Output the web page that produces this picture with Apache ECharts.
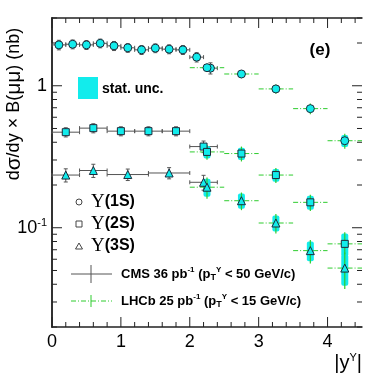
<!DOCTYPE html>
<html>
<head>
<meta charset="utf-8">
<script src="https://cdn.jsdelivr.net/npm/echarts@6/dist/echarts.min.js"></script>
<style>
  html, body { margin: 0; background: #fff; }
  #chart { width: 378px; height: 378px; }
</style>
</head>
<body>
<div id="chart"></div>
<script>
// axis ranges
const xRange = [0, 4.5];
const yRange = [0.02, 3];

// CMS 36 pb-1 : bin centre, bin half width, value (nb), total error
const cms1sX = [0.1, 0.3, 0.5, 0.7, 0.9, 1.1, 1.3, 1.5, 1.7, 1.9, 2.1, 2.3];
const cms1sW = [0.1, 0.1, 0.1, 0.1, 0.1, 0.1, 0.1, 0.1, 0.1, 0.1, 0.1, 0.1];
const cms1sY = [1.94, 1.96, 1.94, 1.99, 1.91, 1.85, 1.79, 1.84, 1.81, 1.79, 1.59, 1.33];
const cms1sE = [0.15, 0.14, 0.14, 0.14, 0.14, 0.13, 0.13, 0.13, 0.13, 0.13, 0.12, 0.12];

const cms2sX = [0.2, 0.6, 1.0, 1.4, 1.8, 2.2];
const cms2sW = [0.2, 0.2, 0.2, 0.2, 0.2, 0.2];
const cms2sY = [0.471, 0.503, 0.479, 0.479, 0.479, 0.373];
const cms2sE = [0.035, 0.037, 0.035, 0.035, 0.035, 0.035];

const cms3sX = [0.2, 0.6, 1.1, 1.7, 2.2];
const cms3sW = [0.2, 0.2, 0.3, 0.3, 0.2];
const cms3sY = [0.235, 0.253, 0.237, 0.243, 0.209];
const cms3sE = [0.025, 0.027, 0.022, 0.022, 0.025];

// LHCb 25 pb-1 : bin centre, half width, value, stat error, total error
const lhcbX = [2.25, 2.75, 3.25, 3.75, 4.25];
const lhcbW = [0.25, 0.25, 0.25, 0.25, 0.25];
const lhcb1sY = [1.34, 1.21, 0.95, 0.69, 0.41];
const lhcb1sStat = [0.04, 0.04, 0.03, 0.03, 0.04];
const lhcb1sTot = [0.09, 0.08, 0.07, 0.06, 0.05];
const lhcb2sY = [0.342, 0.333, 0.235, 0.151, 0.077];
const lhcb2sStat = [0.035, 0.033, 0.024, 0.017, 0.014];
const lhcb2sTot = [0.041, 0.040, 0.028, 0.020, 0.016];
const lhcb3sY = [0.193, 0.155, 0.108, 0.069, 0.052];
const lhcb3sStat = [0.028, 0.019, 0.014, 0.011, 0.013];
const lhcb3sTot = [0.033, 0.022, 0.017, 0.013, 0.015];

// axis ticks (ROOT style, drawn on all four sides)
const xMajorTicks = [0, 1, 2, 3, 4];
const xMinorTicks = [0.2, 0.4, 0.6, 0.8, 1.2, 1.4, 1.6, 1.8, 2.2, 2.4, 2.6, 2.8,
                     3.2, 3.4, 3.6, 3.8, 4.2, 4.4];
const yMajorTicks = [0.1, 1];
const yMinorTicks = [0.02, 0.03, 0.04, 0.05, 0.06, 0.07, 0.08, 0.09,
                     0.2, 0.3, 0.4, 0.5, 0.6, 0.7, 0.8, 0.9, 2, 3];

const CYAN = '#12ecec';
const GREEN = '#2ecc2e';
const CMS_GREY = '#555';
const MARK = '#1c2a3a';
const SANS = '"Liberation Sans", Arial, sans-serif';
const SERIF = '"Liberation Serif", "DejaVu Serif", serif';

function rows() {
  const cols = Array.from(arguments);
  return cols[0].map((_, i) => cols.map(c => c[i]));
}

function line(a, b, style) {
  return { type: 'line', shape: { x1: a[0], y1: a[1], x2: b[0], y2: b[1] }, style: style };
}

// CMS: grey error cross with small end caps
function cmsItem(params, api) {
  const x = api.value(0), y = api.value(1), w = api.value(2), e = api.value(3);
  const l = api.coord([x - w, y]), r = api.coord([x + w, y]);
  const t = api.coord([x, y + e]), b = api.coord([x, y - e]);
  const st = { stroke: CMS_GREY, lineWidth: 1 };
  const cap = 2;
  return {
    type: 'group',
    children: [
      line(l, r, st), line(t, b, st),
      line([t[0] - cap, t[1]], [t[0] + cap, t[1]], st),
      line([b[0] - cap, b[1]], [b[0] + cap, b[1]], st),
      line([l[0], l[1] - cap], [l[0], l[1] + cap], st),
      line([r[0], r[1] - cap], [r[0], r[1] + cap], st)
    ]
  };
}

// LHCb: cyan stat band, green vertical, dash-dot green horizontal
function lhcbItem(params, api) {
  const x = api.value(0), y = api.value(1), w = api.value(2);
  const s = api.value(3), e = api.value(4);
  const l = api.coord([x - w, y]), r = api.coord([x + w, y]);
  const st = api.coord([x, y + s]), sb = api.coord([x, y - s]);
  const t = api.coord([x, y + e]), b = api.coord([x, y - e]);
  return {
    type: 'group',
    children: [
      { type: 'rect', shape: { x: st[0] - 3.5, y: st[1], width: 7, height: sb[1] - st[1], r: 2 },
        style: { fill: CYAN } },
      line(l, r, { stroke: GREEN, lineWidth: 1, lineDash: [5, 2, 1, 2] }),
      line(t, b, { stroke: GREEN, lineWidth: 1.2 })
    ]
  };
}

function tickItem(params, api) {
  const axis = api.value(0), v = api.value(1), len = api.value(2);
  const st = { stroke: '#222', lineWidth: 1 };
  if (axis === 0) {
    const b = api.coord([v, yRange[0]]), t = api.coord([v, yRange[1]]);
    return { type: 'group', children: [
      line(b, [b[0], b[1] - len], st), line(t, [t[0], t[1] + len], st)
    ] };
  }
  const l = api.coord([xRange[0], v]), r = api.coord([xRange[1], v]);
  return { type: 'group', children: [
    line(l, [l[0] + len, l[1]], st), line(r, [r[0] - len, r[1]], st)
  ] };
}

const tickRows = []
  .concat(xMajorTicks.map(v => [0, v, 10]))
  .concat(xMinorTicks.map(v => [0, v, 5]))
  .concat(yMajorTicks.map(v => [1, v, 10]))
  .concat(yMinorTicks.map(v => [1, v, 5]));

function marker(symbol, size, data) {
  return {
    type: 'scatter', symbol: symbol, symbolSize: size, z: 5,
    itemStyle: { color: CYAN, borderColor: MARK, borderWidth: 1, opacity: 1 },
    data: data, silent: true
  };
}

const chart = echarts.init(document.getElementById('chart'), null, { renderer: 'canvas' });

const labelRich = {
  b: { fontFamily: SANS, fontSize: 18, color: '#000' },
  s: { fontFamily: SANS, fontSize: 11, color: '#000', verticalAlign: 'top', lineHeight: 20, padding: [0, 0, 8, 0] }
};

const stateRich = {
  u: { fontFamily: SERIF, fontSize: 19, fill: '#000' },
  b: { fontFamily: SANS, fontSize: 16, fontWeight: 'bold', fill: '#000' }
};

const lumiRich = {
  n: { fontFamily: SANS, fontSize: 13, fontWeight: 'bold', fill: '#000' },
  s: { fontFamily: SANS, fontSize: 8, fontWeight: 'bold', fill: '#000', padding: [0, 0, 8, 0] },
  t: { fontFamily: SANS, fontSize: 9, fontWeight: 'bold', fill: '#000', padding: [8, 0, 0, 0] }
};

chart.setOption({
  animation: false,
  backgroundColor: '#fff',
  grid: { left: 52, right: 16, top: 18, bottom: 51 },
  xAxis: [
    {
      type: 'value', min: xRange[0], max: xRange[1], interval: 1,
      axisLine: { lineStyle: { color: '#222', width: 1.5 } },
      axisTick: { show: false }, splitLine: { show: false },
      axisLabel: {
        margin: 6, fontFamily: SANS, fontSize: 18, color: '#000',
        formatter: v => (Math.abs(v - Math.round(v)) < 1e-9 ? String(Math.round(v)) : '')
      }
    },
    {
      type: 'value', position: 'top', min: xRange[0], max: xRange[1], interval: 1,
      axisLine: { show: true, lineStyle: { color: '#222', width: 1.5 } },
      axisTick: { show: false }, axisLabel: { show: false }, splitLine: { show: false }
    }
  ],
  yAxis: [
    {
      type: 'log', logBase: 10, min: yRange[0], max: yRange[1],
      axisLine: { show: true, lineStyle: { color: '#666', width: 2 } },
      axisTick: { show: false }, splitLine: { show: false }, minorTick: { show: false },
      axisLabel: {
        margin: 5, showMinLabel: true, showMaxLabel: true,
        formatter: v => {
          const e = Math.log10(v);
          if (Math.abs(e) < 1e-6) return '{b|1}';
          if (Math.abs(e + 1) < 1e-6) return '{b|10}{s|-1}';
          return '';
        },
        rich: labelRich
      }
    },
    {
      type: 'log', logBase: 10, min: yRange[0], max: yRange[1], position: 'right',
      axisLine: { show: true, lineStyle: { color: '#222', width: 1.5 } },
      axisTick: { show: false }, axisLabel: { show: false }, splitLine: { show: false }
    }
  ],
  series: [
    { type: 'custom', renderItem: tickItem, data: tickRows, clip: false, silent: true, z: 1 },
    { type: 'custom', renderItem: cmsItem, data: rows(cms1sX, cms1sY, cms1sW, cms1sE), silent: true, z: 2 },
    { type: 'custom', renderItem: cmsItem, data: rows(cms2sX, cms2sY, cms2sW, cms2sE), silent: true, z: 2 },
    { type: 'custom', renderItem: cmsItem, data: rows(cms3sX, cms3sY, cms3sW, cms3sE), silent: true, z: 2 },
    { type: 'custom', renderItem: lhcbItem, data: rows(lhcbX, lhcb1sY, lhcbW, lhcb1sStat, lhcb1sTot), silent: true, z: 2 },
    { type: 'custom', renderItem: lhcbItem, data: rows(lhcbX, lhcb2sY, lhcbW, lhcb2sStat, lhcb2sTot), silent: true, z: 2 },
    { type: 'custom', renderItem: lhcbItem, data: rows(lhcbX, lhcb3sY, lhcbW, lhcb3sStat, lhcb3sTot), silent: true, z: 2 },
    marker('circle', 8, rows(cms1sX, cms1sY)),
    marker('rect', 7, rows(cms2sX, cms2sY)),
    marker('triangle', 8, rows(cms3sX, cms3sY)),
    marker('circle', 8, rows(lhcbX, lhcb1sY)),
    marker('rect', 7, rows(lhcbX, lhcb2sY)),
    marker('triangle', 8, rows(lhcbX, lhcb3sY))
  ],
  graphic: [
    // y title
    { type: 'text', x: 14, y: 104, rotation: Math.PI / 2, silent: true,
      style: { text: '{n|d}{g|σ}{n|/dy × B(}{g|μμ}{n|) (nb)}', align: 'center', verticalAlign: 'middle',
               rich: {
                 n: { fontFamily: SANS, fontSize: 18, fill: '#000' },
                 g: { fontFamily: SANS, fontSize: 21, fill: '#000' }
               } } },
    // x title
    { type: 'text', x: 362, y: 363, silent: true,
      style: { text: '{n||y}{u|Υ}{n||}', align: 'right', verticalAlign: 'middle',
               rich: {
                 n: { fontFamily: SANS, fontSize: 20, fill: '#000' },
                 u: { fontFamily: SANS, fontSize: 11, fill: '#000', padding: [0, 0, 11, 0] }
               } } },
    // panel label
    { type: 'text', x: 320, y: 50, silent: true,
      style: { text: '(e)', fontFamily: SANS, fontSize: 17, fontWeight: 'bold', fill: '#000',
               align: 'center', verticalAlign: 'middle' } },
    // stat. unc.
    { type: 'rect', silent: true, shape: { x: 78, y: 77, width: 20, height: 22 }, style: { fill: CYAN } },
    { type: 'text', x: 102, y: 89, silent: true,
      style: { text: 'stat. unc.', fontFamily: SANS, fontSize: 14, fontWeight: 'bold', fill: '#000',
               verticalAlign: 'middle' } },
    // state markers
    { type: 'circle', silent: true, shape: { cx: 79, cy: 202, r: 3 },
      style: { fill: 'none', stroke: '#444', lineWidth: 1 } },
    { type: 'rect', silent: true, shape: { x: 76, y: 221, width: 6, height: 6 },
      style: { fill: 'none', stroke: '#444', lineWidth: 1 } },
    { type: 'polygon', silent: true, shape: { points: [[79, 243], [82.5, 249], [75.5, 249]] },
      style: { fill: 'none', stroke: '#444', lineWidth: 1 } },
    { type: 'text', x: 91, y: 202, silent: true,
      style: { text: '{u|Υ}{b|(1S)}', verticalAlign: 'middle', rich: stateRich } },
    { type: 'text', x: 91, y: 224, silent: true,
      style: { text: '{u|Υ}{b|(2S)}', verticalAlign: 'middle', rich: stateRich } },
    { type: 'text', x: 91, y: 246, silent: true,
      style: { text: '{u|Υ}{b|(3S)}', verticalAlign: 'middle', rich: stateRich } },
    // CMS legend entry
    { type: 'line', silent: true, shape: { x1: 71, y1: 274, x2: 112, y2: 274 },
      style: { stroke: CMS_GREY, lineWidth: 1 } },
    { type: 'line', silent: true, shape: { x1: 91, y1: 265, x2: 91, y2: 283 },
      style: { stroke: CMS_GREY, lineWidth: 1 } },
    { type: 'text', x: 121, y: 274, silent: true,
      style: { text: '{n|CMS 36 pb}{s|-1}{n| (p}{t|T}{s|Υ}{n| < 50 GeV/c)}', verticalAlign: 'middle',
               rich: lumiRich } },
    // LHCb legend entry
    { type: 'line', silent: true, shape: { x1: 71, y1: 301, x2: 112, y2: 301 },
      style: { stroke: GREEN, lineWidth: 1, lineDash: [5, 2, 1, 2] } },
    { type: 'line', silent: true, shape: { x1: 91, y1: 295, x2: 91, y2: 307 },
      style: { stroke: GREEN, lineWidth: 1 } },
    { type: 'text', x: 121, y: 301, silent: true,
      style: { text: '{n|LHCb 25 pb}{s|-1}{n| (p}{t|T}{s|Υ}{n| < 15 GeV/c)}', verticalAlign: 'middle',
               rich: lumiRich } }
  ]
});
</script>
</body>
</html>
